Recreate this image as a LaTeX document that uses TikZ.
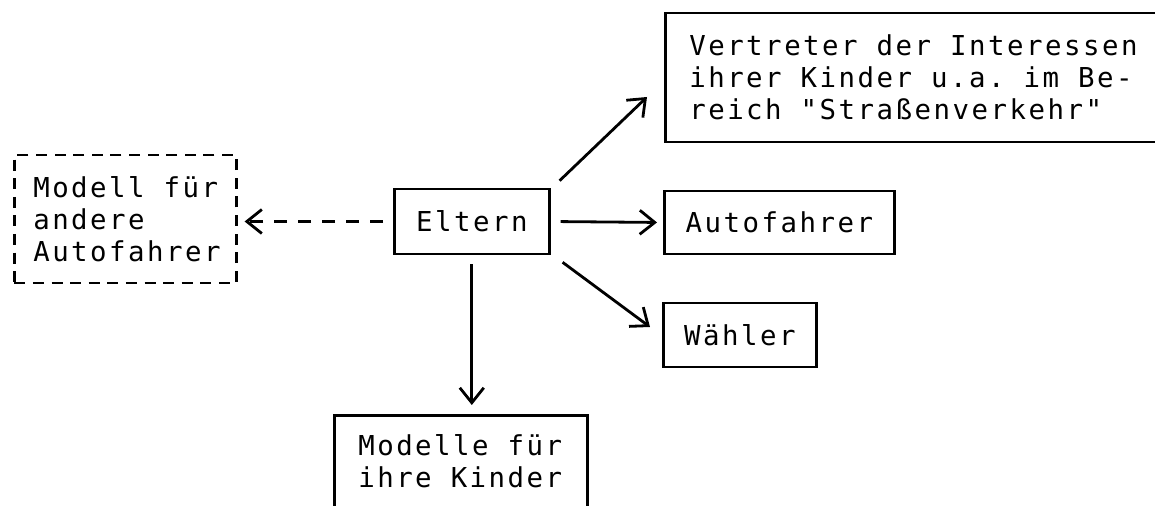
\documentclass[tikz,border=0pt]{standalone}
\usepackage{fontspec}
\usepackage{tikz}
\usetikzlibrary{arrows.meta, positioning, calc}
\newfontfamily\schreib[LetterSpace=9.1]{DejaVu Sans Mono}
\newcommand{\schrift}{\schreib\fontsize{13.7pt}{16pt}\selectfont}
% Leerzeichen der Schreibmaschine
\newcommand{\lz}{\hspace*{9.5pt}}

\begin{document}
\begin{tikzpicture}[
        x=0.5pt, y=-0.5pt,
        >={Straight Barb[length=7.5pt, width=12pt]},
        box/.style={
            rectangle, draw, line width=1.3pt, align=left,
            inner xsep=10pt, inner ysep=0pt,
            font=\schrift,
        },
        dashbox/.style={box, dash pattern=on 5.5pt off 3.8pt},
        pfeil/.style={->, line width=1.4pt},
    ]
        \path[use as bounding box, clip] (0,0) rectangle (1155,506);

        \node[box, anchor=west, minimum width=77.5pt, minimum height=32.5pt] (eltern) at (393,221.5) {Eltern};
        \node[box, anchor=west, minimum width=115pt, minimum height=31.5pt] (auto) at (663,222.5) {Autofahrer};
        \node[box, anchor=west, minimum width=76.5pt, minimum height=32pt] (waehler) at (662,335) {Wähler};
        \node[box, anchor=west, inner xsep=12pt, text width=231pt, minimum height=64.5pt] (interessen) at (664,77.5)
            {Vertreter\lz der\lz Interessen\\ihrer\lz Kinder\lz u.a.\lz im\lz Be-\\reich\lz "Straßenverkehr"};
        \node[dashbox, anchor=west, inner xsep=9.5pt, text width=92pt, minimum height=64pt] (modell) at (13,219)
            {Modell\lz für\\andere\\Autofahrer};
        \node[box, anchor=north west, inner xsep=12pt, inner ysep=9.5pt, text width=102.5pt, text depth=20pt] (kinder) at (333,414)
            {Modelle\lz für\\ihre\lz Kinder};

        % Pfeile von den Eltern
        \draw[pfeil] ($(eltern.north east)+(9,-7)$) -- ($(interessen.west)+(-17,19.5)$);
        \draw[pfeil, shorten <=5pt, shorten >=3pt] (eltern.east) -- (auto.west);
        \draw[pfeil] ($(eltern.south east)+(12,7)$) -- ($(waehler.west)+(-12,-8)$);
        \draw[pfeil, shorten <=4.5pt, shorten >=4.5pt] (eltern.south) -- (eltern.south |- kinder.north);
        \draw[pfeil, dash pattern=on 6.5pt off 5.5pt, shorten <=5pt, shorten >=3.5pt]
            (eltern.west) -- (eltern.west -| modell.east);
    \end{tikzpicture}
\end{document}
